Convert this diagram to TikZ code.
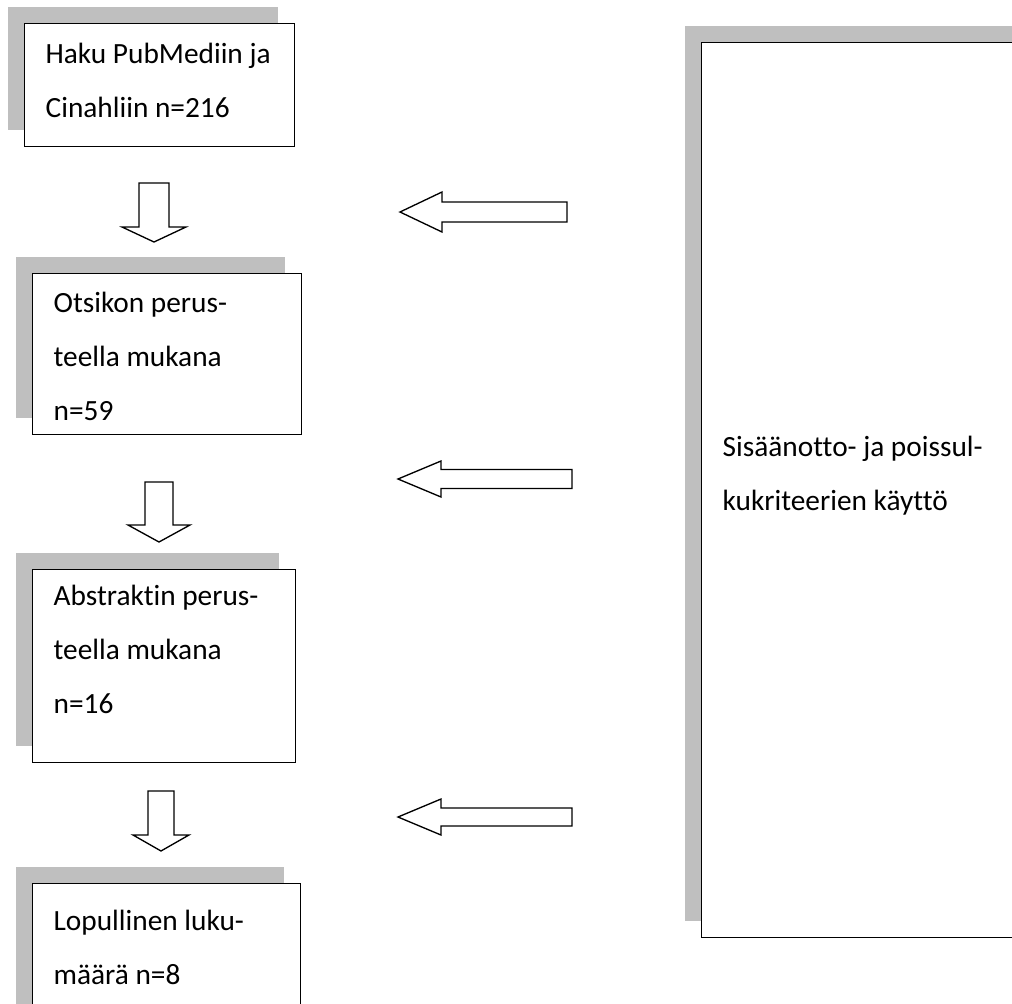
\documentclass[tikz,border=0pt]{standalone}
\usepackage{fontspec}
\setmainfont{Carlito}[Ligatures=NoCommon]
\usetikzlibrary{shadows}
\definecolor{shadowGray}{RGB}{191,191,191}
\tikzstyle{flowBox} = [draw=black, line width=1pt, fill=white, anchor=north west, inner sep=0pt,
  drop shadow={shadow xshift=-12.75pt, shadow yshift=12.75pt, fill=shadowGray, opacity=1}]
\tikzstyle{blockArrow} = [draw=black, line width=1pt, fill=white, line join=miter]
\newcommand{\pxDim}[1]{\dimexpr #1pt*3/4\relax}
\newcommand{\boxText}[4]{\parbox[t][\pxDim{#1}][t]{\pxDim{#2}}{\fontsize{22pt}{40.5pt}\selectfont
  \raggedright\leftskip=15.75pt\rule{0pt}{\pxDim{#3}}#4}}
\newcommand{\downArrow}[6]{\draw [blockArrow] (#1 - #5, #2) -- (#1 + #5, #2) -- (#1 + #5, #3) -- (#1 + #6, #3) -- (#1, #4) -- (#1 - #6, #3) -- (#1 - #5, #3) -- cycle;}
\newcommand{\leftArrow}[6]{\draw [blockArrow] (#4, #1 - #5) -- (#4, #1 + #5) -- (#3, #1 + #5) -- (#3, #1 + #6) -- (#2, #1) -- (#3, #1 - #6) -- (#3, #1 - #5) -- cycle;}
\begin{document}
\begin{tikzpicture}[x = 0.75pt, y = -0.75pt]
  \useasboundingbox (0,0) rectangle (1012,1003);
  \clip (0,0) rectangle (1012,1003);

  % flow boxes
  \node [flowBox] (search) at (24,23) {\boxText{123}{270}{40}{Haku PubMediin ja\\Cinahliin n=216}};
  \node [flowBox] (title) at (32,273) {\boxText{161}{269}{39}{Otsikon perus-\\teella mukana\\n=59}};
  \node [flowBox] (abstract) at (32,569) {\boxText{193}{263}{36}{Abstraktin perus-\\teella mukana\\n=16}};
  \node [flowBox] (final) at (32,883) {\boxText{160}{268}{47}{Lopullinen luku-\\määrä n=8}};
  \node [flowBox] (criteria) at (701,42) {\boxText{895}{330}{414}{Sisäänotto- ja poissul-\\kukriteerien käyttö}};

  % arrows
  \downArrow{154}{183}{227}{242}{15}{32}
  \downArrow{159}{482}{525}{542}{14}{31}
  \downArrow{161}{791}{835}{851}{13}{28}
  \leftArrow{212}{400}{442}{567}{10}{20}
  \leftArrow{479}{398}{441}{572}{9.5}{18}
  \leftArrow{817}{398}{441}{572}{9}{18}
\end{tikzpicture}
\end{document}
